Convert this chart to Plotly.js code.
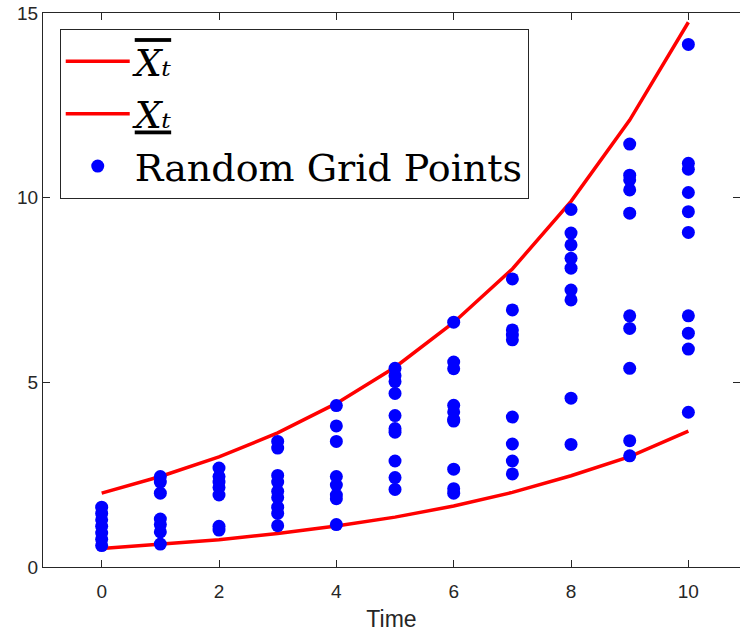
<!DOCTYPE html>
<html>
<head>
<meta charset="utf-8">
<script src="https://cdn.plot.ly/plotly-3.0.1.min.js"></script>
<style>
html, body { margin: 0; padding: 0; background: #fff; overflow: hidden; }
#chart { width: 740px; height: 635px; }
</style>
</head>
<body>
<div id="chart"></div>
<script>
// Time steps
var times = [0, 1, 2, 3, 4, 5, 6, 7, 8, 9, 10];
// Upper bound (X bar_t)
var upperBound = [2.0, 2.45, 2.98, 3.63, 4.43, 5.41, 6.62, 8.07, 9.9, 12.1, 14.75];
// Lower bound (X underbar_t)
var lowerBound = [0.5, 0.61, 0.74, 0.91, 1.11, 1.35, 1.65, 2.02, 2.47, 2.99, 3.68];
// Random grid points per time step
var gridT0 = [1.62, 1.45, 1.28, 1.1, 0.92, 0.75, 0.58];
var gridT1 = [2.45, 2.3, 2.0, 1.3, 1.15, 0.95, 0.62];
var gridT2 = [2.68, 2.45, 2.3, 2.15, 1.95, 1.1, 1.0];
var gridT3 = [3.4, 3.22, 2.48, 2.3, 2.05, 1.88, 1.62, 1.45, 1.12];
var gridT4 = [4.37, 3.82, 3.4, 2.45, 2.22, 1.95, 1.85, 1.15];
var gridT5 = [5.38, 5.18, 5.02, 4.7, 4.1, 3.75, 3.65, 2.87, 2.42, 2.1];
var gridT6 = [6.63, 5.55, 5.37, 4.38, 4.2, 4.0, 3.95, 2.65, 2.12, 2.0];
var gridT7 = [7.8, 6.96, 6.42, 6.28, 6.15, 4.06, 3.33, 2.87, 2.52];
var gridT8 = [9.68, 9.04, 8.72, 8.36, 8.09, 7.5, 7.23, 4.57, 3.32];
var gridT9 = [11.45, 10.61, 10.48, 10.21, 9.58, 6.8, 6.46, 5.38, 3.42, 3.01];
var gridT10 = [14.15, 10.93, 10.77, 10.14, 9.62, 9.06, 6.8, 6.33, 5.9, 4.19];
var xTickVals = [0, 2, 4, 6, 8, 10];
var yTickVals = [0, 5, 10, 15];
var xLabel = 'Time';
var legendNames = [
  '<span style="text-decoration:overline;font-style:italic">X\u209C</span>',
  '<span style="text-decoration:underline;font-style:italic">X\u209C</span>',
  'Random Grid Points'
];

var gridCols = [gridT0, gridT1, gridT2, gridT3, gridT4, gridT5, gridT6, gridT7, gridT8, gridT9, gridT10];
var px = [], py = [];
gridCols.forEach(function (col, i) {
  col.forEach(function (v) { px.push(times[i]); py.push(v); });
});

var axisColor = '#262626';
var traces = [
  { x: times, y: upperBound, type: 'scatter', mode: 'lines', name: legendNames[0],
    line: { color: '#ff0000', width: 3.5 } },
  { x: times, y: lowerBound, type: 'scatter', mode: 'lines', name: legendNames[1],
    line: { color: '#ff0000', width: 3.5 } },
  { x: px, y: py, type: 'scatter', mode: 'markers', name: legendNames[2],
    marker: { color: '#0000ff', size: 13 } }
];

var layout = {
  width: 740, height: 635,
  margin: { l: 43, r: 0, t: 13, b: 68 },
  paper_bgcolor: '#ffffff', plot_bgcolor: '#ffffff',
  font: { family: 'Liberation Sans, Arial, sans-serif', color: axisColor, size: 19 },
  showlegend: true,
  xaxis: {
    range: [-1, 10.88], tickvals: xTickVals, ticktext: xTickVals.map(String),
    ticks: 'inside', ticklen: 7, tickcolor: axisColor, tickwidth: 1,
    showline: true, linecolor: axisColor, linewidth: 1, mirror: 'ticks',
    showgrid: false, zeroline: false, ticklabelstandoff: 7,
    tickfont: { size: 19, color: axisColor },
    title: { text: xLabel, font: { size: 23, color: axisColor }, standoff: 10 }
  },
  yaxis: {
    range: [0, 15], tickvals: yTickVals, ticktext: yTickVals.map(String),
    ticks: 'inside', ticklen: 7, tickcolor: axisColor, tickwidth: 1,
    showline: true, linecolor: axisColor, linewidth: 1, mirror: 'ticks',
    showgrid: false, zeroline: false,
    tickfont: { size: 19, color: axisColor }
  },
  legend: {
    x: 0.024, y: 0.971, xanchor: 'left', yanchor: 'top',
    bgcolor: '#ffffff', bordercolor: axisColor, borderwidth: 1,
    font: { family: 'DejaVu Serif, serif', size: 38, color: '#000000' },
    itemwidth: 64, tracegroupgap: 0
  }
};

Plotly.newPlot('chart', traces, layout, { staticPlot: true, displayModeBar: false });
</script>
</body>
</html>
